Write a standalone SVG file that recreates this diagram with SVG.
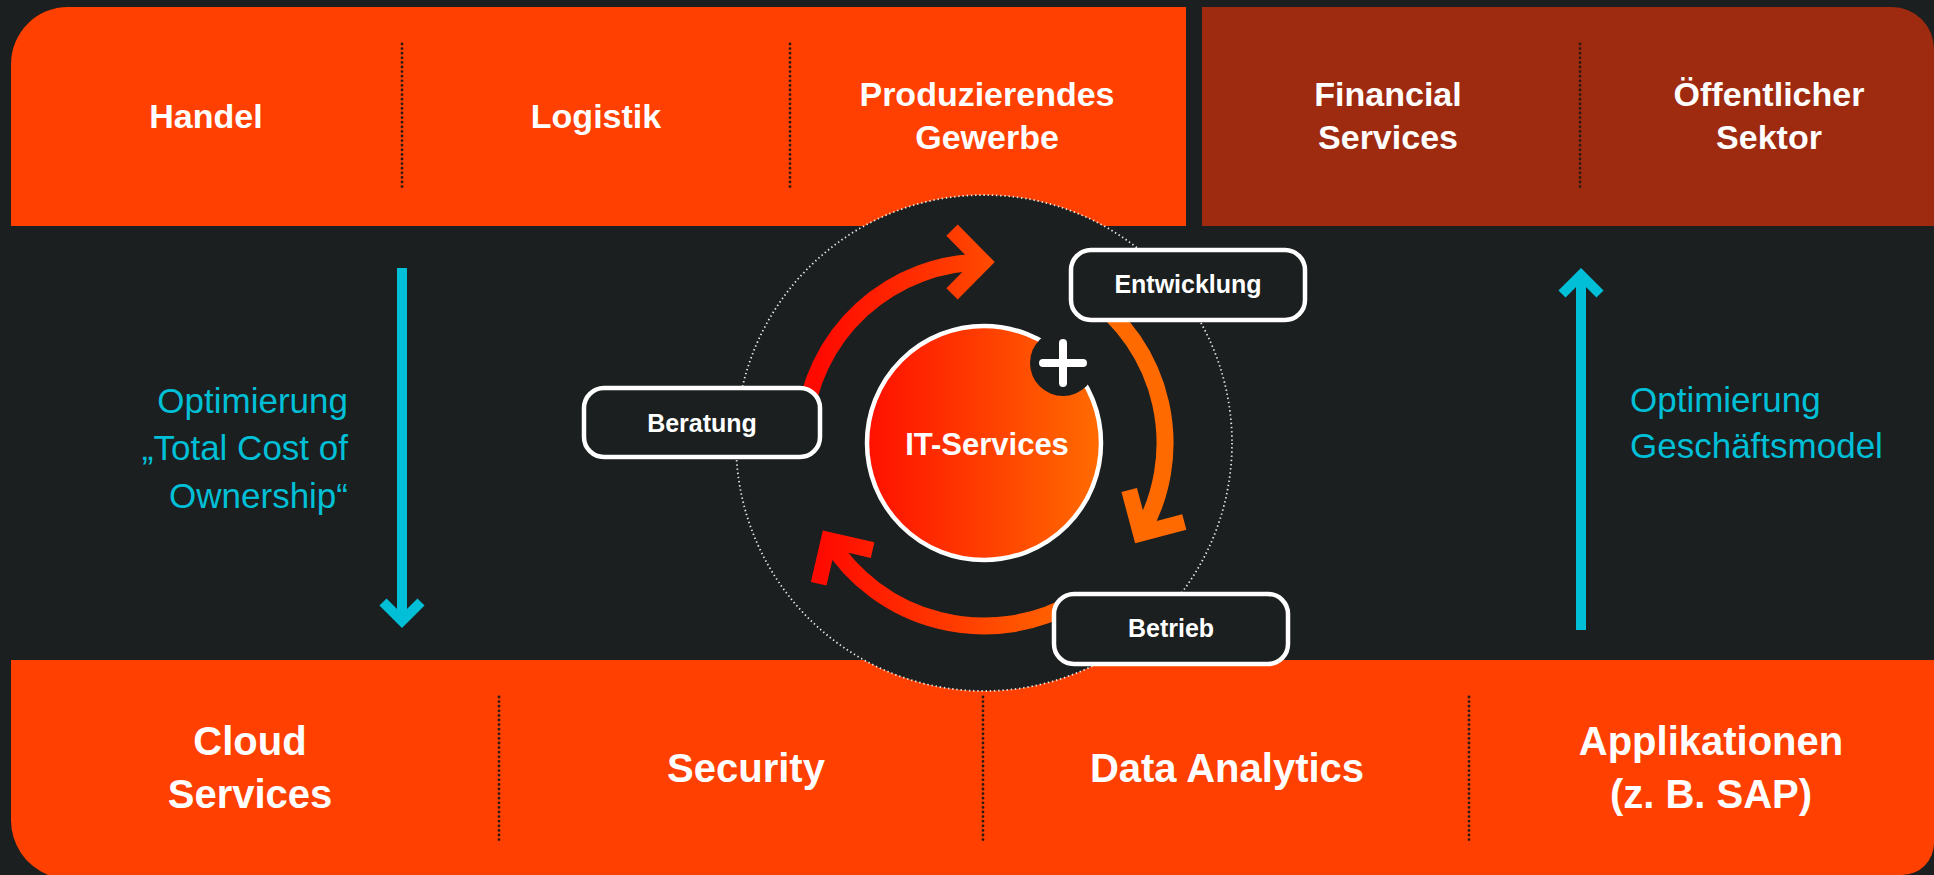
<svg xmlns="http://www.w3.org/2000/svg" width="1934" height="875" viewBox="0 0 1934 875">
<defs>
<style>
.lbl{font-family:"Liberation Sans",Arial,sans-serif;font-weight:bold;fill:#fff;text-anchor:middle}
.top{font-size:34px}
.bot{font-size:40px}
.box{font-size:25px}
.cy{font-family:"Liberation Sans",Arial,sans-serif;font-size:35px;fill:#00bfd6}
.div{stroke:#2a1a12;stroke-width:2.8;stroke-linecap:round;stroke-dasharray:0 4.6;fill:none}
.arc{fill:none;stroke:url(#arcg);stroke-width:17}
.chev{fill:none;stroke:url(#arcg);stroke-width:16;stroke-linejoin:miter;stroke-miterlimit:10}
.bx{fill:#1b1f1f;stroke:#fff;stroke-width:4.5}
.cyl{fill:none;stroke:#00bfd6;stroke-width:10}
</style>
<linearGradient id="arcg" gradientUnits="userSpaceOnUse" x1="820" y1="0" x2="1080" y2="0">
<stop offset="0" stop-color="#ff0a00"/>
<stop offset="1" stop-color="#ff6a00"/>
</linearGradient>
<linearGradient id="itg" x1="0" y1="0" x2="1" y2="0">
<stop offset="0" stop-color="#ff1000"/>
<stop offset="1" stop-color="#ff6c00"/>
</linearGradient>
</defs>
<rect width="1934" height="875" fill="#1b1f1f"/>

<g id="panel-top-orange">
<path d="M11,226 V64 A57,57 0 0 1 68,7 H1186 V226 Z" fill="#ff4000"/>
<line class="div" x1="402" y1="44" x2="402" y2="188"/>
<line class="div" x1="790" y1="44" x2="790" y2="188"/>
<text class="lbl top" x="206" y="128">Handel</text>
<text class="lbl top" x="596" y="128">Logistik</text>
<text class="lbl top" x="987" y="106">Produzierendes</text>
<text class="lbl top" x="987" y="149">Gewerbe</text>
</g>

<g id="panel-top-red">
<path d="M1202,7 H1892 A42,42 0 0 1 1934,49 V226 H1202 Z" fill="#9e2a10"/>
<line class="div" x1="1580" y1="44" x2="1580" y2="188"/>
<text class="lbl top" x="1388" y="106">Financial</text>
<text class="lbl top" x="1388" y="149">Services</text>
<text class="lbl top" x="1769" y="106">Öffentlicher</text>
<text class="lbl top" x="1769" y="149">Sektor</text>
</g>

<g id="panel-bottom">
<path d="M11,660 H1934 V843 A32,32 0 0 1 1902,875 H48 A59,59 0 0 1 11,820 Z" fill="#ff4000"/>
<line class="div" x1="499" y1="697" x2="499" y2="841"/>
<line class="div" x1="983" y1="697" x2="983" y2="841"/>
<line class="div" x1="1469" y1="697" x2="1469" y2="841"/>
<text class="lbl bot" x="250" y="755">Cloud</text>
<text class="lbl bot" x="250" y="808">Services</text>
<text class="lbl bot" x="746" y="782">Security</text>
<text class="lbl bot" x="1227" y="782">Data Analytics</text>
<text class="lbl bot" x="1711" y="755">Applikationen</text>
<text class="lbl bot" x="1711" y="808">(z. B. SAP)</text>
</g>

<g id="cycle-ring">
<circle cx="984" cy="443" r="248" fill="#1b1f1f" stroke="#e6e6e6" stroke-width="1.8" stroke-dasharray="1.4 2.8"/>
</g>

<g id="connectors">
<path class="arc" d="M803.7,427.2 A181,181 0 0 1 984,262"/>
<polyline class="chev" points="952,230.2 983.5,262 952,293.8"/>
<path class="arc" d="M1087.8,294.7 A181,181 0 0 1 1140.8,533.5"/>
<polyline class="chev" points="1129.2,490 1140.8,533.5 1184.3,521.9"/>
<path class="arc" d="M1075.5,601.5 A183,183 0 0 1 828.8,540"/>
<polyline class="chev" points="818.7,583.8 828.8,540 872.6,550.1"/>
<line class="cyl" x1="402" y1="268" x2="402" y2="618"/>
<polyline class="cyl" points="383,602 402,621 421,602" stroke-linejoin="miter"/>
<line class="cyl" x1="1581" y1="630" x2="1581" y2="278"/>
<polyline class="cyl" points="1562,294 1581,275 1600,294" stroke-linejoin="miter"/>
</g>

<g id="it-services">
<circle cx="984" cy="443" r="117" fill="url(#itg)" stroke="#fff" stroke-width="4.5"/>
<circle cx="1063" cy="363" r="33" fill="#1b1f1f"/>
<path d="M1043,363 H1083 M1063,343 V383" stroke="#fff" stroke-width="8" stroke-linecap="round" fill="none"/>
<text class="lbl" x="987" y="455" font-size="31">IT-Services</text>
</g>

<g id="entwicklung">
<rect class="bx" x="1071" y="250" width="234" height="70" rx="20"/>
<text class="lbl box" x="1188" y="293">Entwicklung</text>
</g>
<g id="beratung">
<rect class="bx" x="584" y="388" width="236" height="69" rx="20"/>
<text class="lbl box" x="702" y="432">Beratung</text>
</g>
<g id="betrieb">
<rect class="bx" x="1054" y="594" width="234" height="70" rx="20"/>
<text class="lbl box" x="1171" y="637">Betrieb</text>
</g>

<g id="tco-label">
<text class="cy" x="348" y="413" text-anchor="end">Optimierung</text>
<text class="cy" x="348" y="460" text-anchor="end">„Total Cost of</text>
<text class="cy" x="348" y="508" text-anchor="end">Ownership“</text>
</g>
<g id="gm-label">
<text class="cy" x="1630" y="412">Optimierung</text>
<text class="cy" x="1630" y="458">Geschäftsmodel</text>
</g>
</svg>
